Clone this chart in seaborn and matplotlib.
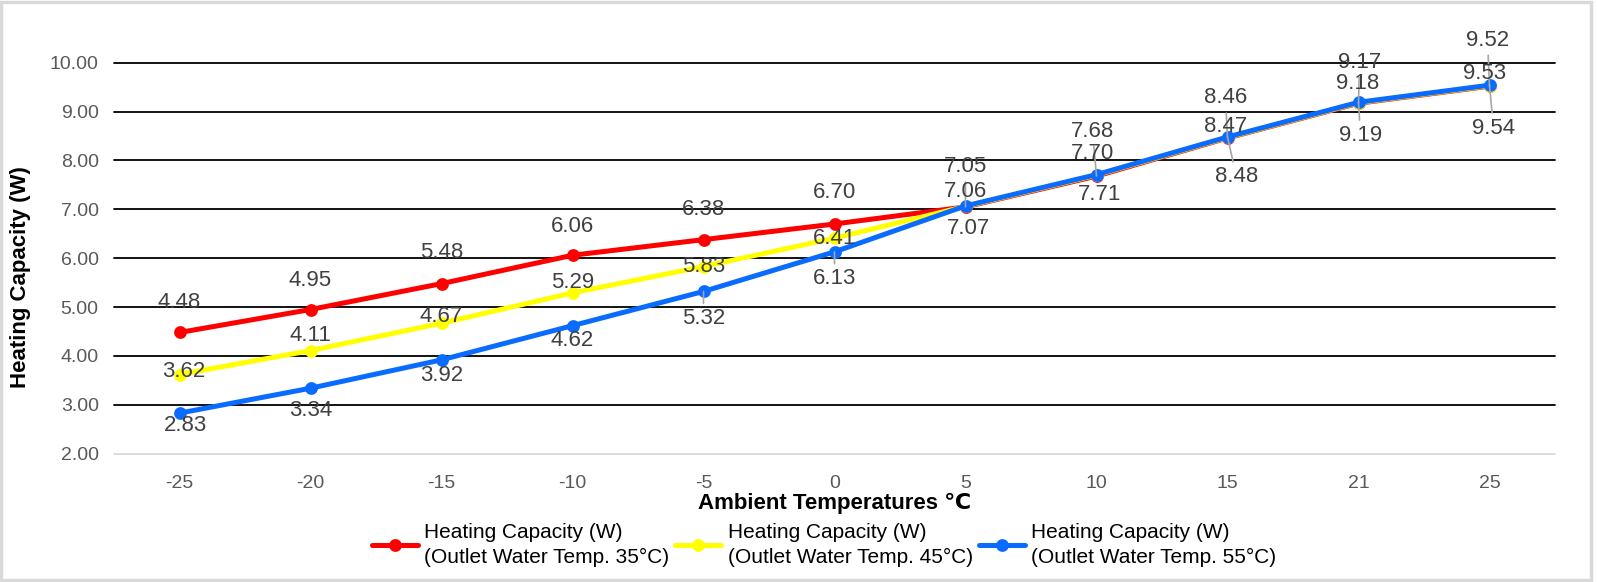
import pandas as pd
import seaborn as sns
import matplotlib.pyplot as plt
from matplotlib.patches import Rectangle

# datos
temps = [-25, -20, -15, -10, -5, 0, 5, 10, 15, 21, 25]
cap_35 = [4.48, 4.95, 5.48, 6.06, 6.38, 6.70, 7.05, 7.68, 8.46, 9.17, 9.52]
cap_45 = [3.62, 4.11, 4.67, 5.29, 5.83, 6.41, 7.06, 7.70, 8.47, 9.18, 9.53]
cap_55 = [2.83, 3.34, 3.92, 4.62, 5.32, 6.13, 7.07, 7.71, 8.48, 9.19, 9.54]
series_names = ['Heating Capacity (W)\n(Outlet Water Temp. 35°C)',
                'Heating Capacity (W)\n(Outlet Water Temp. 45°C)',
                'Heating Capacity (W)\n(Outlet Water Temp. 55°C)']
colors = ['#ff0000', '#ffff00', '#0a6cff']
y_ticks = [2, 3, 4, 5, 6, 7, 8, 9, 10]

# desplazamiento de las etiquetas en pixeles (dx, dy hacia abajo) y lineas guia
off_35 = [(0, -30), (0, -29), (0, -31), (0, -29), (0, -30), (0, -31),
          (0, -40), (-4, -45), (-2, -40), (1, -41), (-2, -46)]
off_45 = [(4, -3), (0, -15), (0, -7), (0, -10), (0, 0), (0, 0),
          (0, -15), (-4, -22), (-2, -11), (-1, -19), (-5, -12)]
off_55 = [(6, 12), (0, 22), (0, 16), (0, 15), (0, 27), (0, 27),
          (3, 23), (3, 20), (9, 40), (2, 33), (4, 43)]
lead_35 = [6, 7, 8, 9, 10]
lead_45 = []
lead_55 = [4, 5, 8, 9, 10]

sns.set_style('white')
plt.rcParams['font.family'] = ['Liberation Sans', 'DejaVu Sans']

rows = []
for name, vals in zip(series_names, [cap_35, cap_45, cap_55]):
    for t, v in zip(temps, vals):
        rows.append({'temp': str(t), 'cap': v, 'serie': name})
df = pd.DataFrame(rows)

fig = plt.figure(figsize=(15.97, 5.82), dpi=100)
ax = fig.add_axes([114 / 1597, 1 - 453.7 / 582, 1441 / 1597, 391 / 582])

sns.pointplot(data=df, x='temp', y='cap', hue='serie', order=[str(t) for t in temps],
              hue_order=series_names, palette=colors, markers='o', linestyles='-',
              errorbar=None, markersize=6.5, linewidth=3.6, ax=ax)

ax.set_xlim(-0.5, len(temps) - 0.5)
ax.set_ylim(2, 10)
ax.set_yticks(y_ticks)
ax.set_yticklabels([f'{v:.2f}' for v in y_ticks])
ax.tick_params(axis='both', length=0, labelsize=14, labelcolor='#595959')
ax.tick_params(axis='y', pad=11)
ax.tick_params(axis='x', pad=15)
ax.yaxis.grid(True, color='black', linewidth=1.3)
ax.set_axisbelow(True)
for g in ax.get_ygridlines():
    g.set_clip_on(False)
ax.get_ygridlines()[0].set_color('#d9d9d9')
for s in ax.spines.values():
    s.set_visible(False)

ax.set_ylabel('Heating Capacity (W)', fontsize=16, fontweight='bold', color='black')
ax.yaxis.set_label_coords(-0.0576, 0.452)
ax.set_xlabel('Ambient Temperatures ℃', fontsize=16, fontweight='bold', color='black')
ax.xaxis.set_label_coords(0.5, -0.1)

# etiquetas de datos
px = 0.72
for vals, offs, leads in [(cap_35, off_35, lead_35), (cap_45, off_45, lead_45), (cap_55, off_55, lead_55)]:
    for i, v in enumerate(vals):
        dx, dy = offs[i]
        kw = {}
        if i in leads:
            kw['arrowprops'] = dict(arrowstyle='-', color='#a6a6a6', lw=1.2, shrinkA=1, shrinkB=0)
        ax.annotate(f'{v:.2f}', xy=(i, v), xytext=(dx * px, -dy * px), textcoords='offset points',
                    ha='center', va='center', fontsize=16, color='#404040',
                    annotation_clip=False, zorder=5, **kw)

handles, labels = ax.get_legend_handles_labels()
ax.get_legend().remove()
leg = fig.legend(handles, labels, loc='center', bbox_to_anchor=(0.516, 0.0636), ncol=3,
                 frameon=False, fontsize=15, handlelength=2.2, columnspacing=0.3,
                 handletextpad=0.3, labelcolor='black')
for t in leg.get_texts():
    t.set_linespacing(1.4)

fig.patches.append(Rectangle((1 / 1597, 2 / 582), 1590 / 1597, 578 / 582, transform=fig.transFigure,
                             fill=False, edgecolor='#d9d9d9', linewidth=2.5))

fig.savefig('out.png', dpi=100)
